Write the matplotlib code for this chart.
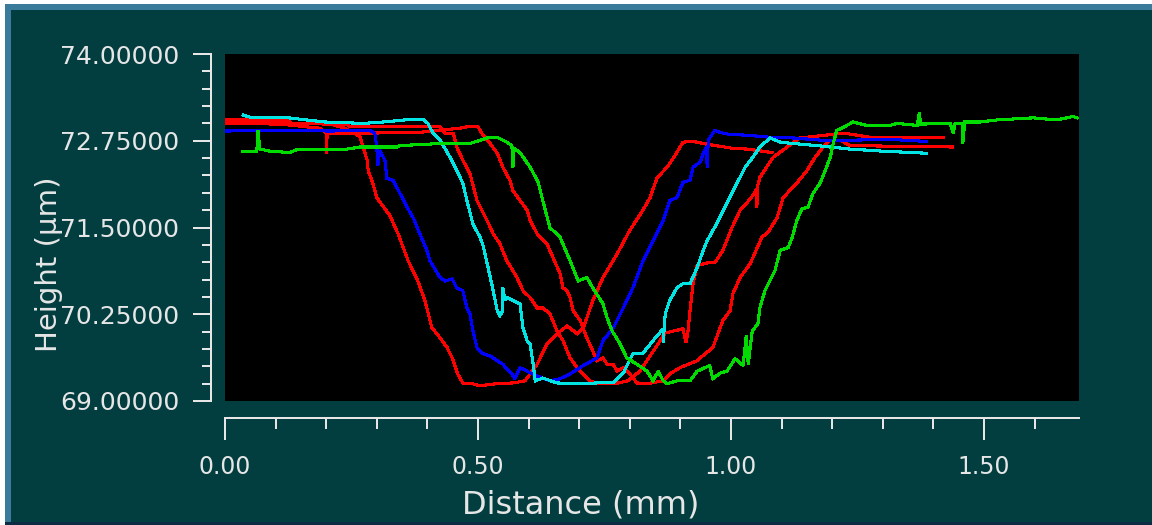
import matplotlib
matplotlib.use("Agg")
import numpy as np
import matplotlib.pyplot as plt
from matplotlib.patches import Rectangle
from matplotlib.ticker import FixedLocator, MultipleLocator, FormatStrFormatter

# ---- profile data: distance (mm) and height (um) ----
red1_x = [0, .128, .132, .208, .237, .257, .267, .273, .281, .283, .292, .300, .326, .342,
          .362, .381, .395, .409, .419, .439, .449, .460, .470, .488, .504, .538, .569, .593,
          .603, .617, .636, .656, .676, .696, .708, .727, .747, .775, .800, .826, .840, .854,
          .874, .893, .905, .925, .953, 1.004, 1.032, 1.081]
red1_y = [73.03, 73.03, 73.00, 72.99, 72.93, 72.86, 72.80, 72.66, 72.47, 72.32, 72.14, 71.93,
          71.67, 71.41, 71.02, 70.73, 70.45, 70.05, 69.97, 69.77, 69.62, 69.39, 69.26, 69.25,
          69.22, 69.25, 69.26, 69.29, 69.39, 69.53, 69.82, 69.97, 70.08, 69.97, 70.05, 70.45,
          70.78, 71.12, 71.46, 71.75, 71.93, 72.22, 72.37, 72.58, 72.73, 72.74, 72.70, 72.64,
          72.63, 72.58]

red2_x = [0, .125, .128, .241, .247, .425, .435, .451, .458, .470, .484, .498, .518, .530,
          .543, .557, .577, .589, .603, .617, .628, .642, .656, .668, .682, .696, .708, .721,
          .735, .771, .796, .820, .840, .860, .870, .905, .911, .915, .919, .925, .933, .953,
          .968, .984, 1.002, 1.018, 1.032, 1.043, 1.051, 1.051, 1.053, 1.057, 1.083, 1.111,
          1.136, 1.150, 1.223, 1.275, 1.419]
red2_y = [73.06, 73.05, 73.00, 72.99, 72.95, 72.95, 72.86, 72.86, 72.66, 72.47, 72.28, 71.89,
          71.60, 71.41, 71.27, 71.02, 70.78, 70.59, 70.49, 70.34, 70.34, 70.26, 70.01, 69.87,
          69.62, 69.48, 69.39, 69.29, 69.26, 69.25, 69.29, 69.43, 69.65, 69.87, 69.98, 70.04,
          69.84, 70.01, 70.30, 70.69, 70.95, 70.99, 70.99, 71.17, 71.50, 71.75, 71.86, 71.96,
          72.06, 71.79, 72.11, 72.22, 72.51, 72.66, 72.79, 72.80, 72.86, 72.80, 72.80]

red3_x = [0, .109, .188, .200, .200, .202, .281, .385, .419, .464, .484, .500, .510, .524,
          .538, .549, .563, .569, .583, .597, .603, .617, .636, .648, .662, .668, .676, .682,
          .688, .702, .715, .727, .735, .747, .755, .767, .775, .787, .800, .814, .834, .866,
          .879, .899, .933, .939, .964, .984, .998, 1.004, 1.018, 1.038, 1.061, 1.073, 1.091,
          1.103, 1.130, 1.150, 1.166, 1.180, 1.196, 1.215, 1.235, 1.437]
red3_y = [73.00, 72.99, 72.93, 72.86, 72.57, 72.86, 72.86, 72.87, 72.90, 72.93, 72.96, 72.95,
          72.83, 72.71, 72.57, 72.37, 72.18, 72.03, 71.89, 71.75, 71.60, 71.41, 71.27, 71.07,
          70.84, 70.63, 70.59, 70.49, 70.30, 70.16, 69.91, 69.72, 69.58, 69.62, 69.53, 69.53,
          69.43, 69.48, 69.39, 69.26, 69.25, 69.29, 69.39, 69.48, 69.58, 69.62, 69.77, 70.16,
          70.30, 70.55, 70.78, 70.98, 71.36, 71.43, 71.64, 71.93, 72.14, 72.32, 72.51, 72.64,
          72.76, 72.76, 72.68, 72.66]

blue_x = [0, .109, .208, .287, .296, .300, .302, .306, .316, .320, .332, .346, .360, .372,
          .385, .399, .405, .425, .435, .449, .458, .470, .478, .484, .490, .498, .510, .524,
          .538, .549, .567, .573, .583, .597, .607, .617, .642, .662, .682, .708, .735, .747,
          .767, .787, .806, .826, .846, .866, .879, .893, .905, .919, .925, .939, .945, .951,
          .953, .955, .968, .978, .998, 1.032, 1.077, 1.123, 1.176, 1.249, 1.314, 1.387]
blue_y = [72.89, 72.90, 72.89, 72.90, 72.86, 72.66, 72.40, 72.61, 72.47, 72.21, 72.18, 71.99,
          71.79, 71.64, 71.41, 71.17, 71.02, 70.78, 70.73, 70.76, 70.63, 70.59, 70.34, 70.26,
          70.01, 69.77, 69.68, 69.65, 69.58, 69.53, 69.39, 69.32, 69.48, 69.43, 69.39, 69.36,
          69.29, 69.32, 69.39, 69.51, 69.62, 69.87, 70.05, 70.34, 70.63, 71.02, 71.31, 71.60,
          71.89, 71.93, 72.15, 72.18, 72.37, 72.44, 72.57, 72.66, 72.37, 72.76, 72.90, 72.87,
          72.84, 72.83, 72.80, 72.79, 72.76, 72.76, 72.77, 72.74]

cyan_x = [.036, .049, .125, .198, .273, .312, .370, .391, .401, .411, .425, .445, .458, .470,
          .478, .490, .504, .510, .520, .530, .538, .543, .549, .549, .553, .557, .569, .583,
          .589, .597, .603, .609, .613, .628, .656, .696, .735, .767, .787, .806, .826, .846,
          .866, .866, .870, .879, .893, .905, .919, .933, .945, .953, .972, .992, 1.012, 1.028,
          1.043, 1.057, 1.077, 1.097, 1.123, 1.170, 1.235, 1.300, 1.387]
cyan_y = [73.12, 73.09, 73.08, 73.02, 73.00, 73.02, 73.06, 73.06, 73.00, 72.86, 72.76, 72.51,
          72.32, 72.14, 71.89, 71.55, 71.36, 71.24, 70.92, 70.59, 70.30, 70.23, 70.30, 70.63,
          70.45, 70.49, 70.45, 70.40, 70.05, 69.87, 69.82, 69.53, 69.29, 69.33, 69.26, 69.25,
          69.26, 69.26, 69.40, 69.68, 69.69, 69.87, 70.04, 69.84, 70.26, 70.45, 70.63, 70.69,
          70.69, 70.92, 71.17, 71.31, 71.56, 71.85, 72.14, 72.37, 72.51, 72.66, 72.79, 72.73,
          72.71, 72.68, 72.63, 72.60, 72.57]

green_x = [.034, .063, .065, .069, .089, .128, .144, .241, .267, .340, .346, .425, .484, .518,
           .538, .557, .567, .569, .571, .583, .603, .619, .628, .642, .662, .682, .698, .715,
           .727, .747, .755, .765, .781, .794, .814, .834, .846, .856, .866, .874, .893, .919,
           .933, .958, .964, .978, .992, 1.008, 1.024, 1.030, 1.034, 1.042, 1.053, 1.057, 1.067,
           1.087, 1.097, 1.113, 1.121, 1.130, 1.140, 1.152, 1.162, 1.176, 1.186, 1.196, 1.202,
           1.209, 1.219, 1.241, 1.269, 1.314, 1.328, 1.368, 1.372, 1.375, 1.433, 1.439, 1.443,
           1.458, 1.458, 1.462, 1.492, 1.526, 1.597, 1.644, 1.676, 1.684]
green_y = [72.60, 72.60, 72.90, 72.63, 72.60, 72.58, 72.63, 72.63, 72.66, 72.66, 72.68, 72.71,
           72.71, 72.79, 72.80, 72.73, 72.68, 72.37, 72.64, 72.58, 72.37, 72.15, 71.89, 71.50,
           71.36, 71.02, 70.73, 70.78, 70.63, 70.40, 70.20, 70.01, 69.82, 69.62, 69.53, 69.43,
           69.29, 69.43, 69.29, 69.25, 69.29, 69.29, 69.43, 69.51, 69.32, 69.40, 69.43, 69.61,
           69.51, 69.94, 69.53, 70.01, 70.11, 70.34, 70.59, 70.88, 71.17, 71.21, 71.36, 71.60,
           71.77, 71.79, 71.99, 72.14, 72.32, 72.51, 72.71, 72.90, 72.93, 73.02, 72.97, 72.97,
           73.00, 72.97, 73.15, 72.99, 73.00, 72.86, 73.00, 73.00, 72.71, 73.02, 73.02, 73.05,
           73.08, 73.05, 73.10, 73.08]

series = [
    (red1_x, red1_y, "#ff0000"),
    (red2_x, red2_y, "#ff0000"),
    (red3_x, red3_y, "#ff0000"),
    (blue_x, blue_y, "#0000ff"),
    (cyan_x, cyan_y, "#00e4e4"),
    (green_x, green_y, "#00dc00"),
]

x_max = 1.6877
y_min, y_max = 69.0, 74.0
y_major = [69.0, 70.25, 71.5, 72.75, 74.0]
y_minor = np.arange(69.0, 74.001, 0.25)

W, H = 1152, 525
TEAL = "#023e40"
BORDER = "#3a7b9b"
INK = "#e6e6e6"


def fx(px):
    return px / W


def fy(py):
    return 1 - py / H


fig = plt.figure(figsize=(W / 100, H / 100), dpi=100, facecolor="white")

# window frame
fig.add_artist(Rectangle((fx(5), fy(525)), fx(1147), 521 / H, transform=fig.transFigure,
                         facecolor=BORDER, edgecolor="none", zorder=-3))
fig.add_artist(Rectangle((fx(11), fy(522)), fx(1141), 512 / H, transform=fig.transFigure,
                         facecolor=TEAL, edgecolor="none", zorder=-2))
fig.add_artist(Rectangle((fx(5), fy(525)), fx(1147), 3 / H, transform=fig.transFigure,
                         facecolor="#0b2c42", edgecolor="none", zorder=-2))

ax = fig.add_axes([fx(225), fy(401), fx(1079 - 225), 347 / H])
ax.set_facecolor("black")

for xs, ys, c in series:
    ax.plot(xs, ys, color=c, lw=1.5, antialiased=False, solid_joinstyle="miter")

ax.set_xlim(0, x_max)
ax.set_ylim(y_min, y_max)

for side in ("top", "right"):
    ax.spines[side].set_visible(False)
ax.spines["left"].set_position(("outward", 10.1))
ax.spines["bottom"].set_position(("outward", 12.2))
for side in ("left", "bottom"):
    ax.spines[side].set_color(INK)
    ax.spines[side].set_linewidth(1.45)

ax.yaxis.set_major_locator(FixedLocator(y_major))
ax.yaxis.set_minor_locator(FixedLocator(y_minor))
ax.yaxis.set_major_formatter(FormatStrFormatter("%.5f"))
ax.xaxis.set_major_locator(MultipleLocator(0.5))
ax.xaxis.set_minor_locator(MultipleLocator(0.1))
ax.xaxis.set_major_formatter(FormatStrFormatter("%.2f"))

ax.tick_params(axis="y", which="major", direction="out", length=13, width=1.45,
               color=INK, labelcolor=INK, labelsize=18, pad=10)
ax.tick_params(axis="y", which="minor", direction="out", length=6.5, width=1.45, color=INK)
ax.tick_params(axis="x", which="major", direction="out", length=16, width=1.45,
               color=INK, labelcolor=INK, labelsize=17, pad=11)
ax.tick_params(axis="x", which="minor", direction="out", length=8, width=1.45, color=INK)

fig.text(fx(581), fy(513), "Distance (mm)", color=INK, fontsize=23,
         ha="center", va="baseline")
fig.text(fx(57), fy(264), "Height (µm)", color=INK, fontsize=21, rotation=90,
         rotation_mode="anchor", ha="center", va="baseline")

fig.savefig("out.png", dpi=100, facecolor=fig.get_facecolor())
